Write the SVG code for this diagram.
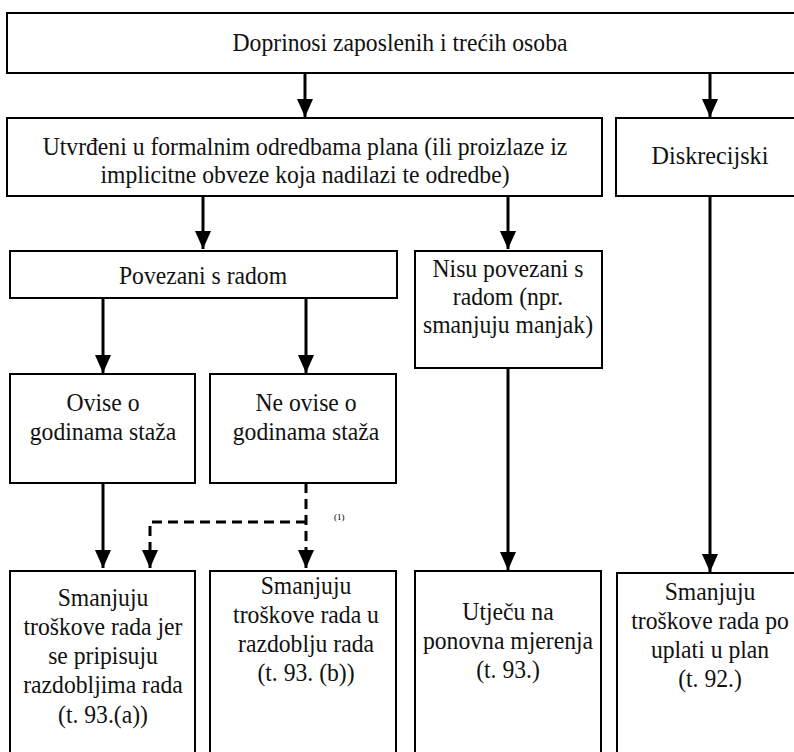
<svg xmlns="http://www.w3.org/2000/svg" width="794" height="752" viewBox="0 0 794 752">
<defs>
<marker id="ah" markerUnits="userSpaceOnUse" markerWidth="18" markerHeight="16" refX="18" refY="8" orient="auto" viewBox="0 0 18 16">
<path d="M0,0 L18,8 L0,16 Z" fill="#000"/>
</marker>
<style>
.box{fill:#fff;stroke:#000;stroke-width:2}
.t{font-family:'Liberation Serif','DejaVu Serif',serif;font-size:26px;fill:#111;text-anchor:middle}
.c{fill:none;stroke:#000;stroke-width:3}
.d{fill:none;stroke:#000;stroke-width:3;stroke-dasharray:10 6}
.s{font-family:'Liberation Serif','DejaVu Serif',serif;font-size:9px;fill:#000}
</style>
</defs>
<rect width="794" height="752" fill="#fff"/>
<g id="connectors">
<line class="c" x1="305" y1="73" x2="305" y2="117" marker-end="url(#ah)"/>
<line class="c" x1="710" y1="73" x2="710" y2="117" marker-end="url(#ah)"/>
<line class="c" x1="203" y1="196" x2="203" y2="249" marker-end="url(#ah)"/>
<line class="c" x1="508" y1="196" x2="508" y2="249" marker-end="url(#ah)"/>
<line class="c" x1="103" y1="298" x2="103" y2="373" marker-end="url(#ah)"/>
<line class="c" x1="306" y1="298" x2="306" y2="373" marker-end="url(#ah)"/>
<line class="c" x1="103" y1="483" x2="103" y2="568" marker-end="url(#ah)"/>
<path class="d" d="M306,483 V568" marker-end="url(#ah)"/>
<path class="d" d="M306,522 H150 V568" marker-end="url(#ah)"/>
<line class="c" x1="508" y1="368" x2="508" y2="570" marker-end="url(#ah)"/>
<line class="c" x1="710" y1="196" x2="710" y2="572" marker-end="url(#ah)"/>
<text class="s" x="334" y="520">(1)</text>
</g>
<g id="n-top">
<rect class="box" x="7" y="13" width="800" height="60"/>
<text class="t" transform="translate(400,51) scale(0.91,1)">Doprinosi zaposlenih i trećih osoba</text>
</g>
<g id="n-formal">
<rect class="box" x="7" y="118" width="595" height="78"/>
<text class="t" transform="translate(305,155) scale(0.91,1)"><tspan x="0">Utvrđeni u formalnim odredbama plana (ili proizlaze iz</tspan><tspan x="0" dy="28">implicitne obveze koja nadilazi te odredbe)</tspan></text>
</g>
<g id="n-disc">
<rect class="box" x="616" y="118" width="190" height="78"/>
<text class="t" transform="translate(710,164) scale(0.93,1)">Diskrecijski</text>
</g>
<g id="n-povezani">
<rect class="box" x="10" y="251" width="387" height="47"/>
<text class="t" transform="translate(203,284) scale(0.91,1)">Povezani s radom</text>
</g>
<g id="n-nisu">
<rect class="box" x="415" y="251" width="187" height="117"/>
<text class="t" transform="translate(508,277) scale(0.91,1)"><tspan x="0">Nisu povezani s</tspan><tspan x="0" dy="28">radom (npr.</tspan><tspan x="0" dy="28">smanjuju manjak)</tspan></text>
</g>
<g id="n-ovise">
<rect class="box" x="10" y="374" width="185" height="109"/>
<text class="t" transform="translate(103,411) scale(0.91,1)"><tspan x="0">Ovise o</tspan><tspan x="0" dy="29">godinama staža</tspan></text>
</g>
<g id="n-neovise">
<rect class="box" x="210" y="374" width="186" height="109"/>
<text class="t" transform="translate(306,411) scale(0.91,1)"><tspan x="0">Ne ovise o</tspan><tspan x="0" dy="29">godinama staža</tspan></text>
</g>
<g id="n-b1">
<rect class="box" x="10" y="571" width="185" height="200"/>
<text class="t" transform="translate(103,606) scale(0.91,1)"><tspan x="0">Smanjuju</tspan><tspan x="0" dy="29">troškove rada jer</tspan><tspan x="0" dy="29">se pripisuju</tspan><tspan x="0" dy="29.5">razdobljima rada</tspan><tspan x="0" dy="29.5">(t. 93.(a))</tspan></text>
</g>
<g id="n-b2">
<rect class="box" x="210" y="571" width="186" height="200"/>
<text class="t" transform="translate(306,594) scale(0.91,1)"><tspan x="0">Smanjuju</tspan><tspan x="0" dy="29">troškove rada u</tspan><tspan x="0" dy="29">razdoblju rada</tspan><tspan x="0" dy="29">(t. 93. (b))</tspan></text>
</g>
<g id="n-b3">
<rect class="box" x="415" y="571" width="186" height="200"/>
<text class="t" transform="translate(508,620) scale(0.91,1)"><tspan x="0">Utječu na</tspan><tspan x="0" dy="29">ponovna mjerenja</tspan><tspan x="0" dy="29">(t. 93.)</tspan></text>
</g>
<g id="n-b4">
<rect class="box" x="617" y="573" width="190" height="200"/>
<text class="t" transform="translate(710,600) scale(0.91,1)"><tspan x="0">Smanjuju</tspan><tspan x="0" dy="29">troškove rada po</tspan><tspan x="0" dy="29">uplati u plan</tspan><tspan x="0" dy="29">(t. 92.)</tspan></text>
</g>
</svg>
